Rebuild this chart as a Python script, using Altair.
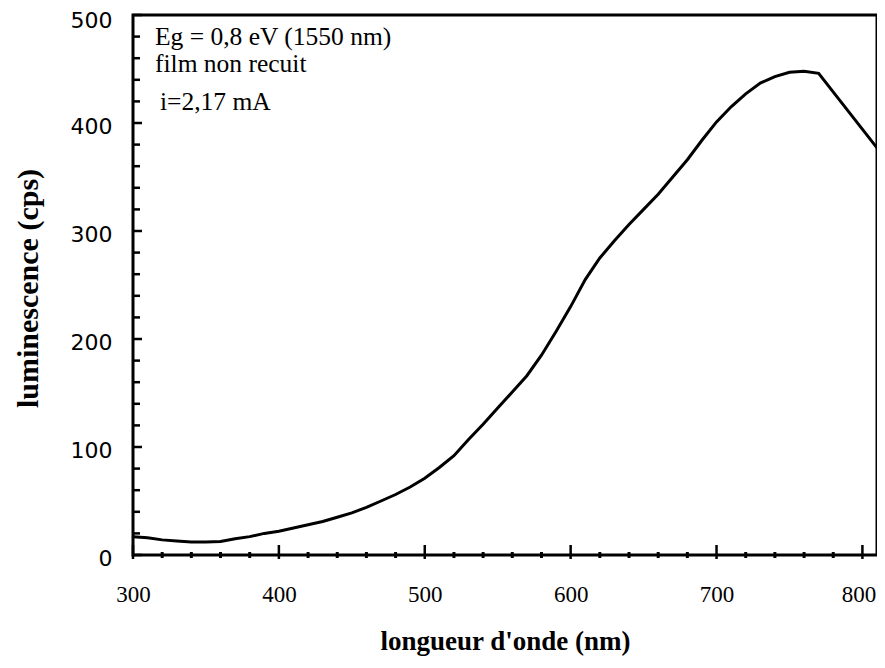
import altair as alt
import pandas as pd

# wavelength (nm) and luminescence (cps)
wavelength = [300, 310, 320, 330, 340, 350, 360, 370, 380, 390, 400, 410, 420, 430, 440,
              450, 460, 470, 480, 490, 500, 510, 520, 530, 540, 550, 560, 570, 580, 590,
              600, 610, 620, 630, 640, 650, 660, 670, 680, 690, 700, 710, 720, 730, 740,
              750, 760, 770, 810]
luminescence = [17, 16, 14, 13, 12, 12, 12.5, 15, 17, 20, 22, 25, 28, 31, 35,
                39, 44, 50, 56, 63, 71, 81, 92, 107, 121, 136, 151, 166, 185, 207,
                230, 255, 275, 291, 306, 320, 334, 350, 366, 384, 401, 415, 427, 437, 443,
                447, 448, 446, 377]

x_major = [300, 400, 500, 600, 700, 800]
x_minor = [v for v in range(320, 810, 20) if v not in x_major]
y_major = [0, 100, 200, 300, 400, 500]
y_minor = [v for v in range(20, 500, 20) if v not in y_major]

annot_lines = ["Eg = 0,8 eV (1550 nm)", "film non recuit", "i=2,17 mA"]

W, H = 744, 540
serif = "Liberation Serif"
sans = "DejaVu Sans"

df = pd.DataFrame({"wl": wavelength, "lum": luminescence})

xscale = alt.Scale(domain=[300, 810], nice=False, zero=False)
yscale = alt.Scale(domain=[0, 500], nice=False)

line = alt.Chart(df).mark_line(color="black", strokeWidth=3).encode(
    x=alt.X("wl:Q", scale=xscale,
            axis=alt.Axis(title="longueur d'onde (nm)", values=x_major, ticks=False,
                          domain=False, grid=False, labelFont=serif, labelFontSize=23,
                          labelColor="black", labelPadding=28, labelFlush=False,
                          labelOffset={"condition": {"test": "datum.value == 800", "value": -4}, "value": 0},
                          titleFont=serif, titleFontSize=27, titleFontWeight="bold",
                          titleColor="black", titleY=86, titleBaseline="middle")),
    y=alt.Y("lum:Q", scale=yscale,
            axis=alt.Axis(title="luminescence (cps)", values=y_major, ticks=False,
                          domain=False, grid=False, labelFont=sans, labelFontSize=22,
                          labelColor="black", labelPadding=21,
                          labelOffset={"condition": {"test": "datum.value == 500", "value": 5}, "value": 3},
                          labelFlush=False,
                          titleFont=serif, titleFontSize=30, titleFontWeight="bold",
                          titleColor="black", titleX=-105, titleY=273,
                          titleAngle=270, titleAlign="center", titleBaseline="middle")),
)

ymaj = alt.Chart(pd.DataFrame({"v": y_major})).mark_rule(color="black", strokeWidth=2.5).encode(
    y=alt.Y("v:Q", scale=yscale), x=alt.value(0), x2=alt.value(9))
ymin = alt.Chart(pd.DataFrame({"v": y_minor})).mark_rule(color="black", strokeWidth=2.5).encode(
    y=alt.Y("v:Q", scale=yscale), x=alt.value(0), x2=alt.value(7))
xmaj = alt.Chart(pd.DataFrame({"v": x_major})).mark_rule(color="black", strokeWidth=2.5).encode(
    x=alt.X("v:Q", scale=xscale), y=alt.value(H - 10), y2=alt.value(H + 4))
xmin = alt.Chart(pd.DataFrame({"v": x_minor})).mark_rule(color="black", strokeWidth=3).encode(
    x=alt.X("v:Q", scale=xscale), y=alt.value(H - 3), y2=alt.value(H + 3))

def label(txt, px, py):
    return alt.Chart(pd.DataFrame({"t": [txt]})).mark_text(
        font=serif, fontSize=25.5, align="left", baseline="alphabetic", color="black").encode(
        text="t:N", x=alt.value(px), y=alt.value(py))

t1 = label(annot_lines[0], 22, 30)
t2 = label(annot_lines[1], 22, 57)
t3 = label(annot_lines[2], 27, 95)

chart = alt.layer(line, ymaj, ymin, xmaj, xmin, t1, t2, t3).properties(
    width=W, height=H,
    background="white",
    autosize=alt.AutoSizeParams(type="none"),
    padding={"left": 125, "top": 7, "right": 0, "bottom": 105},
).configure_view(stroke="black", strokeWidth=3)

chart.save("out.html", embed_options={"renderer": "svg", "actions": False})
